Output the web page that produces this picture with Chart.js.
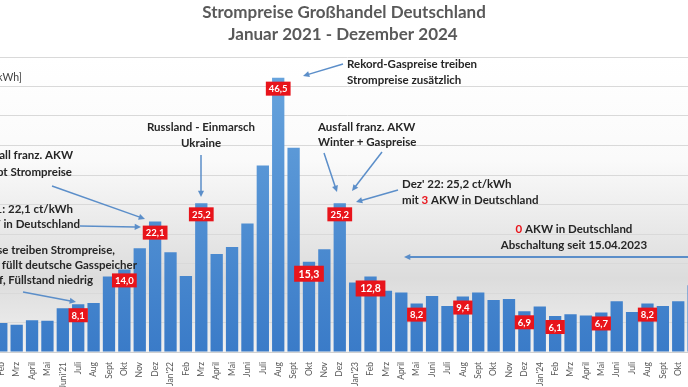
<!DOCTYPE html>
<html>
<head>
<meta charset="utf-8">
<script src="https://cdn.jsdelivr.net/npm/chart.js@4"></script>
<style>
  html, body { margin: 0; padding: 0; background: #fff; overflow: hidden; }
  #wrap { position: absolute; left: -60px; top: 0; width: 808px; height: 387px; }
</style>
</head>
<body>
<div id="wrap"><canvas id="priceChart" width="808" height="387"></canvas></div>
<script>
// Strompreise Großhandel Deutschland, Monatsmittel in ct/kWh

const months = [
    "Jan'21", 'Feb', 'Mrz', 'April', 'Mai', "Juni'21", 'Juli', 'Aug', 'Sept', 'Okt', 'Nov', 'Dez',
    "Jan'22", 'Feb', 'Mrz', 'April', 'Mai', 'Juni', 'Juli', 'Aug', 'Sept', 'Okt', 'Nov', 'Dez',
    "Jan'23", 'Feb', 'Mrz', 'April', 'Mai', 'Juni', 'Juli', 'Aug', 'Sept', 'Okt', 'Nov', 'Dez',
    "Jan'24", 'Feb', 'Mrz', 'April', 'Mai', 'Juni', 'Juli', 'Aug', 'Sept', 'Okt', 'Nov', 'Dez'
];

const prices = [
    5.3, 4.9, 4.6, 5.4, 5.3, 7.4, 8.1, 8.3, 12.8, 14.0, 17.6, 22.1,
    16.9, 12.9, 25.2, 16.6, 17.8, 21.8, 31.6, 46.5, 34.6, 15.3, 17.4, 25.2,
    11.8, 12.8, 10.4, 10.1, 8.2, 9.5, 7.8, 9.4, 10.1, 8.8, 9.0, 6.9,
    7.7, 6.1, 6.4, 6.2, 6.7, 8.6, 6.8, 8.2, 7.8, 8.6, 11.3, 10.8
];

// bars that carry a red value box
const markedBars = [6, 9, 11, 14, 19, 21, 23, 25, 28, 31, 35, 37, 40, 43];

const yTicks = [0, 5, 10, 15, 20, 25, 30, 35, 40, 45, 50];

const OFFSET = 60; // canvas starts 60px left of the page
const arrowColor = '#5b8ec9';
const noteFont = 'bold 11.5px Lato';
const red = '#e8141b';

// annotations in page coordinates
const notes = [
    { align: 'left', x: 347, ys: [64, 80], lines: [['Rekord-Gaspreise treiben'], ['Strompreise zusätzlich']],
      arrows: [[343, 64, 303, 76]] },
    { align: 'center', x: 201, ys: [127, 143], lines: [['Russland - Einmarsch'], ['Ukraine']],
      arrows: [[201, 155, 201, 197]] },
    { align: 'left', x: 318, ys: [127, 142], lines: [['Ausfall franz. AKW'], ['Winter + Gaspreise']],
      arrows: [[324, 153, 337, 192], [382, 152, 352, 191]] },
    { align: 'left', x: 402, ys: [184, 200], lines: [["Dez' 22: 25,2 ct/kWh"], ['mit ', ['3', red], ' AKW in Deutschland']],
      arrows: [[398, 190, 356, 202]] },
    { align: 'center', x: 574, ys: [229, 245], lines: [[['0', red], ' AKW in Deutschland'], ['Abschaltung seit 15.04.2023']],
      arrows: [[692, 257, 404, 257]], width: 2 },
    { align: 'right', xs: [73, 72], ys: [155, 172], lines: [['Ausfall franz. AKW'], ['treibt Strompreise']],
      arrows: [[52, 186, 145, 219]] },
    { align: 'right', xs: [73, 80], ys: [209, 224], lines: [["Dez' 21: 22,1 ct/kWh"], ['mit ', ['6', red], ' AKW in Deutschland']],
      arrows: [[80, 226, 141, 227]] },
    { align: 'right', xs: [115, 137, 93], ys: [250, 265, 280],
      lines: [['Gaspreise treiben Strompreise,'], ['Gazprom füllt deutsche Gasspeicher'], ['nicht auf, Füllstand niedrig']],
      arrows: [[23, 292, 76, 302]] }
];

function drawArrow(ctx, x1, y1, x2, y2, w) {
    const a = Math.atan2(y2 - y1, x2 - x1);
    const h = 7;
    ctx.strokeStyle = arrowColor;
    ctx.fillStyle = arrowColor;
    ctx.lineWidth = w || 1.5;
    ctx.beginPath();
    ctx.moveTo(x1, y1);
    ctx.lineTo(x2 - Math.cos(a) * h * 0.8, y2 - Math.sin(a) * h * 0.8);
    ctx.stroke();
    ctx.beginPath();
    ctx.moveTo(x2, y2);
    ctx.lineTo(x2 - h * Math.cos(a - 0.45), y2 - h * Math.sin(a - 0.45));
    ctx.lineTo(x2 - h * Math.cos(a + 0.45), y2 - h * Math.sin(a + 0.45));
    ctx.closePath();
    ctx.fill();
}

function drawLine(ctx, segs, x, y, align) {
    const parts = segs.map(s => Array.isArray(s) ? s : [s, '#262626']);
    const total = parts.reduce((w, p) => w + ctx.measureText(p[0]).width, 0);
    let cx = align === 'left' ? x : align === 'center' ? x - total / 2 : x - total;
    ctx.textAlign = 'left';
    parts.forEach(p => {
        ctx.fillStyle = p[1];
        ctx.fillText(p[0], cx, y);
        cx += ctx.measureText(p[0]).width;
    });
}

const plotBackground = {
    id: 'plotBackground',
    beforeDraw(chart) {
        const { ctx, chartArea: a } = chart;
        const g = ctx.createLinearGradient(0, a.top, 0, a.bottom);
        g.addColorStop(0, '#ffffff');
        g.addColorStop(0.35, '#fafafa');
        g.addColorStop(0.75, '#dcdcdc');
        g.addColorStop(1, '#f1f1f1');
        ctx.save();
        ctx.fillStyle = g;
        ctx.fillRect(a.left, a.top, a.right - a.left, a.bottom - a.top);
        ctx.restore();
    }
};

const valueBoxes = {
    id: 'valueBoxes',
    afterDatasetsDraw(chart) {
        const ctx = chart.ctx;
        const meta = chart.getDatasetMeta(0);
        ctx.save();
        markedBars.forEach(i => {
            const bar = meta.data[i];
            const big = i === 21 || i === 25;
            const text = prices[i].toFixed(1).replace('.', ',');
            ctx.font = (big ? 'bold 10.5px' : 'bold 9.5px') + ' Lato';
            const w = ctx.measureText(text).width + (big ? 9 : 6);
            const h = big ? 16 : 14;
            const top = bar.y + 4;
            ctx.fillStyle = red;
            ctx.fillRect(bar.x - w / 2, top, w, h);
            ctx.fillStyle = '#ffffff';
            ctx.textAlign = 'center';
            ctx.textBaseline = 'middle';
            ctx.fillText(text, bar.x, top + h / 2 + 0.5);
        });
        ctx.restore();
    }
};

const overlay = {
    id: 'overlay',
    afterDraw(chart) {
        const ctx = chart.ctx;
        ctx.save();
        ctx.translate(OFFSET, 0);
        ctx.textBaseline = 'middle';

        ctx.fillStyle = '#595959';
        ctx.font = 'bold 17px Lato';
        ctx.textAlign = 'center';
        ctx.fillText('Strompreise Großhandel Deutschland', 344, 13);
        ctx.fillText('Januar 2021 - Dezember 2024', 343, 35);

        ctx.fillStyle = '#404040';
        ctx.font = '10.5px Lato';
        ctx.textAlign = 'right';
        ctx.fillText('Preis [ct/kWh]', 22, 78);

        notes.forEach(n => {
            ctx.font = noteFont;
            n.lines.forEach((segs, k) => {
                const x = n.xs ? n.xs[k] : n.x;
                drawLine(ctx, segs, x, n.ys[k], n.align);
            });
            n.arrows.forEach(a => drawArrow(ctx, a[0], a[1], a[2], a[3], n.width));
        });
        ctx.restore();
    }
};

const ctx = document.getElementById('priceChart').getContext('2d');

new Chart(ctx, {
    type: 'bar',
    data: {
        labels: months,
        datasets: [{
            label: 'Strompreis',
            data: prices,
            backgroundColor: (c) => {
                const a = c.chart.chartArea;
                if (!a) return '#4f8fd4';
                const g = c.chart.ctx.createLinearGradient(0, a.top, 0, a.bottom);
                g.addColorStop(0, '#6aa6de');
                g.addColorStop(1, '#3a7bc8');
                return g;
            },
            borderWidth: 0,
            barPercentage: 0.8,
            categoryPercentage: 1.0
        }]
    },
    options: {
        responsive: false,
        animation: false,
        devicePixelRatio: 1,
        layout: { padding: { left: 38.2, right: 31.3, top: 57, bottom: 0 } },
        plugins: {
            legend: { display: false },
            tooltip: { enabled: false }
        },
        scales: {
            x: {
                grid: { display: false },
                border: { display: true, color: '#d0d0d0' },
                ticks: {
                    color: '#595959',
                    font: { family: 'Lato', size: 8.5 },
                    minRotation: 90,
                    maxRotation: 90,
                    autoSkip: false,
                    padding: 2
                },
                afterFit: (s) => { s.height = 35; }
            },
            y: {
                min: 0,
                max: 50,
                afterBuildTicks: (s) => { s.ticks = yTicks.map(v => ({ value: v })); },
                ticks: { display: false },
                grid: { color: '#d9d9d9', drawTicks: false },
                border: { display: false },
                afterFit: (s) => { s.width = 0; }
            }
        }
    },
    plugins: [plotBackground, valueBoxes, overlay]
});
</script>
</body>
</html>
